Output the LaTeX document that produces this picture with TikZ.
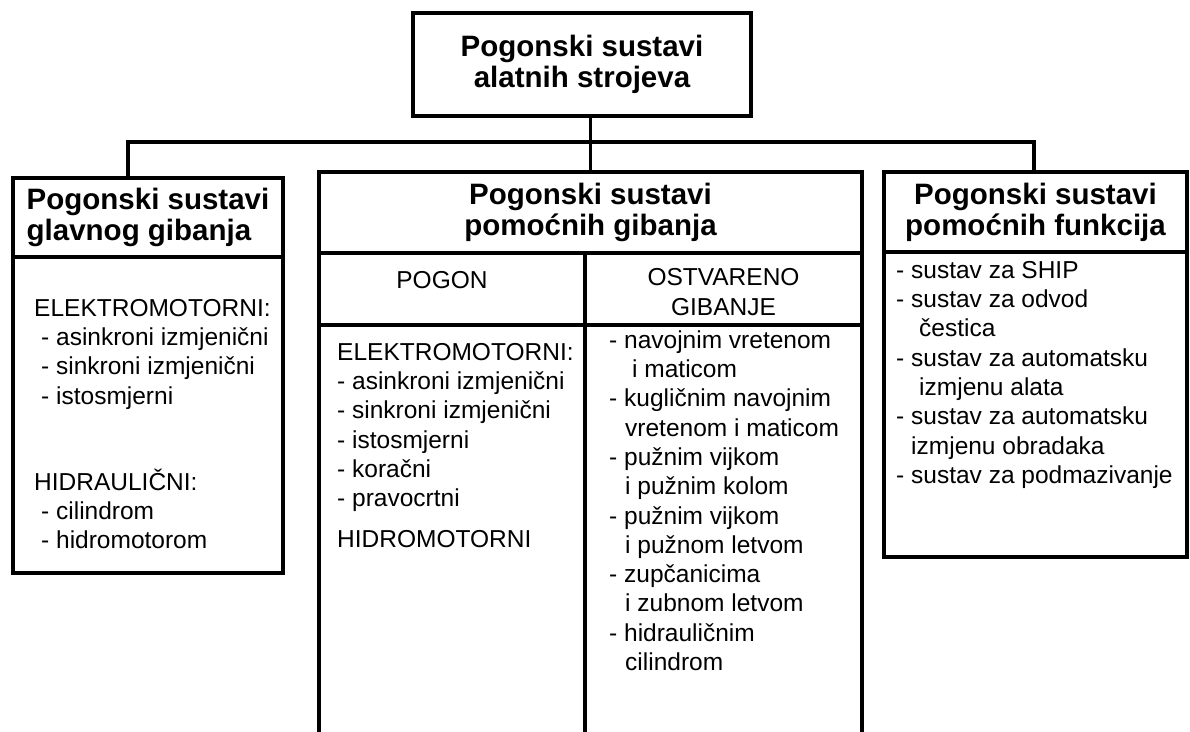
\documentclass[tikz,border=0pt]{standalone}
\usepackage{fontspec}
\setmainfont{Liberation Sans}
\usetikzlibrary{positioning}

\tikzset{
  box/.style={draw, line width=3.6pt, inner sep=0pt, outer sep=0pt, anchor=north west},
  head/.style={box, font=\fontsize{29.5}{31}\selectfont\bfseries},
  sub/.style={inner sep=0pt, align=center, font=\fontsize{24.5}{29.3}\selectfont},
  list/.style={anchor=north west, inner sep=0pt, align=left, font=\fontsize{24.5}{29.3}\selectfont},
  conn/.style={line width=3.4pt},
  side/.style={line width=3.6pt}
}
\newcommand{\fs}{\rule{0pt}{24pt}}
\newcommand{\ind}{\hspace*{7pt}}

\begin{document}
\begin{tikzpicture}[x=1pt, y=-1pt]
\useasboundingbox (0,0) rectangle (1190,731);
\clip (0,0) rectangle (1190,731);

% glavni okvir
\node[head, minimum width=338pt, minimum height=103pt, align=center] (top) at (413,13)
  {Pogonski sustavi\\alatnih strojeva};

% tri grane
\node[head, minimum width=270pt, minimum height=79pt, align=left] (lhead) at (13,178)
  {Pogonski sustavi\\glavnog gibanja};
\node[box, minimum width=270pt, minimum height=316pt] (lbody) at (lhead.south west) {};

\node[head, minimum width=543pt, minimum height=81pt, align=center] (mhead) at (319,172)
  {Pogonski sustavi\\pomoćnih gibanja};
\node[box, minimum width=266pt, minimum height=72pt] (pog) at (mhead.south west) {};
\node[box, minimum width=277pt, minimum height=72pt] (ost) at (pog.north east) {};
\node[sub] (pogt) at ([xshift=-10pt,yshift=9pt]pog.center) {POGON};
\node[sub] (ostt) at ([yshift=-3pt]ost.center) {OSTVARENO\\GIBANJE};

\node[head, minimum width=303pt, minimum height=80pt, align=center] (rhead) at (884,172)
  {Pogonski sustavi\\pomoćnih funkcija};
\node[box, minimum width=303pt, minimum height=305pt] (rbody) at (rhead.south west) {};

% veze
\coordinate (jl) at (128,142);
\coordinate (jr) at (1034,142);
\draw[conn] (jl |- lhead.north) -- (jl) -- (jr) -- (jr |- rhead.north);
\draw[conn] (mhead.north |- top.south) -- (mhead.north);

% stupci srednjeg okvira (otvoreni prema dolje)
\coordinate (bot) at (0,745);
\draw[side] (pog.south west) -- (pog.south west |- bot);
\draw[side] (pog.south east) -- (pog.south east |- bot);
\draw[side] (ost.south east) -- (ost.south east |- bot);

% sadrzaj
\node[list] (lel) at (34,292) {\fs ELEKTROMOTORNI:\\
  \ind- asinkroni izmjenični\\
  \ind- sinkroni izmjenični\\
  \ind- istosmjerni};
\node[list] (lhy) at (34,466) {\fs HIDRAULIČNI:\\
  \ind- cilindrom\\
  \ind- hidromotorom};

\node[list] (mel) at (337,336) {\fs ELEKTROMOTORNI:\\
  - asinkroni izmjenični\\
  - sinkroni izmjenični\\
  - istosmjerni\\
  - koračni\\
  - pravocrtni\\[11pt]
  HIDROMOTORNI};

\node[list] (mog) at (609,324) {\fs - navojnim vretenom\\
  \hspace*{23pt}i maticom\\
  - kugličnim navojnim\\
  \hspace*{16pt}vretenom i maticom\\
  - pužnim vijkom\\
  \hspace*{16pt}i pužnim kolom\\
  - pužnim vijkom\\
  \hspace*{16pt}i pužnom letvom\\
  - zupčanicima\\
  \hspace*{16pt}i zubnom letvom\\
  - hidrauličnim\\
  \hspace*{16pt}cilindrom};

\node[list] (rfun) at (896,254) {\fs - sustav za SHIP\\
  - sustav za odvod\\
  \hspace*{23pt}čestica\\
  - sustav za automatsku\\
  \hspace*{23pt}izmjenu alata\\
  - sustav za automatsku\\
  \hspace*{15pt}izmjenu obradaka\\
  - sustav za podmazivanje};
\end{tikzpicture}
\end{document}
